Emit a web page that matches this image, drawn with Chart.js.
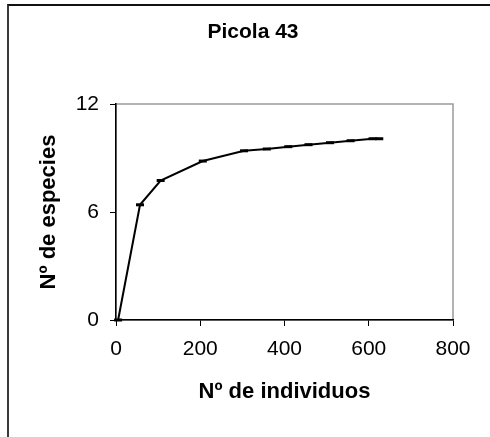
<!DOCTYPE html>
<html>
<head>
<meta charset="utf-8">
<script src="https://cdn.jsdelivr.net/npm/chart.js@4/dist/chart.umd.min.js"></script>
<style>
    html, body { margin: 0; padding: 0; background: #fff; }
    #marco {
        position: absolute; left: 7px; top: 4px; width: 490px; height: 440px;
        border-top: 2px solid #111; border-left: 2px solid #3a3a3a;
    }
    #contenedor { position: absolute; left: 0; top: 0; width: 490px; height: 437px; }
</style>
</head>
<body>
<div id="marco"></div>
<div id="contenedor"><canvas id="grafica" width="490" height="437"></canvas></div>
<script>
// Curva de acumulacion de especies para la parcela
const titulo = 'Picola 43';
const individuos = [5, 57, 106, 206, 304, 358, 409, 457, 508, 557, 609, 625];
const especies = [0, 6.4, 7.75, 8.83, 9.4, 9.5, 9.63, 9.74, 9.85, 9.96, 10.07, 10.07];
const ticksX = [0, 200, 400, 600, 800];
const ticksY = [0, 6, 12];

const fuente = 'Arial, "Liberation Sans", sans-serif';

// Titulo y borde gris del area de trazado
const decoracion = {
    id: 'decoracion',
    beforeDraw(chart) {
        const { ctx, chartArea: a } = chart;
        ctx.save();
        ctx.strokeStyle = '#9a9a9a';
        ctx.lineWidth = 1.5;
        ctx.strokeRect(a.left, a.top, a.right - a.left, a.bottom - a.top);
        ctx.fillStyle = '#000';
        ctx.font = 'bold 21px ' + fuente;
        ctx.textAlign = 'center';
        ctx.textBaseline = 'middle';
        ctx.fillText(titulo, 253, 32);
        ctx.restore();
    }
};

new Chart(document.getElementById('grafica'), {
    type: 'line',
    data: {
        datasets: [{
            data: individuos.map((x, i) => ({ x: x, y: especies[i] })),
            borderColor: '#000',
            borderWidth: 2,
            tension: 0,
            fill: false,
            pointStyle: 'line',
            pointRadius: 4,
            pointBorderWidth: 3,
            pointBorderColor: '#000',
            clip: false
        }]
    },
    options: {
        responsive: false,
        animation: false,
        layout: { padding: { left: 0, right: 37, top: 104, bottom: 0 } },
        plugins: { legend: { display: false }, tooltip: { enabled: false } },
        scales: {
            x: {
                type: 'linear',
                min: 0, max: 800,
                afterBuildTicks: s => { s.ticks = ticksX.map(v => ({ value: v })); },
                afterFit: s => { s.height = 117; },
                border: { color: '#000', width: 1.5 },
                grid: { drawOnChartArea: false, drawTicks: true, tickLength: 6, color: '#000', lineWidth: 1 },
                ticks: { color: '#000', padding: 11, font: { family: fuente, size: 21 } },
                title: {
                    display: true, text: 'Nº de individuos', color: '#000',
                    font: { family: fuente, size: 22, weight: 'bold' },
                    padding: { top: 0, bottom: 32 }
                }
            },
            y: {
                min: 0, max: 12,
                afterBuildTicks: s => { s.ticks = ticksY.map(v => ({ value: v })); },
                afterFit: s => { s.width = 116; },
                border: { color: '#000', width: 1.5 },
                grid: { drawOnChartArea: false, drawTicks: true, tickLength: 6, color: '#000', lineWidth: 1 },
                ticks: { color: '#000', padding: 11, font: { family: fuente, size: 21 } },
                title: {
                    display: true, text: 'Nº de especies', color: '#000',
                    font: { family: fuente, size: 22, weight: 'bold' },
                    padding: { top: 36, bottom: 0 }
                }
            }
        }
    },
    plugins: [decoracion]
});
</script>
</body>
</html>
